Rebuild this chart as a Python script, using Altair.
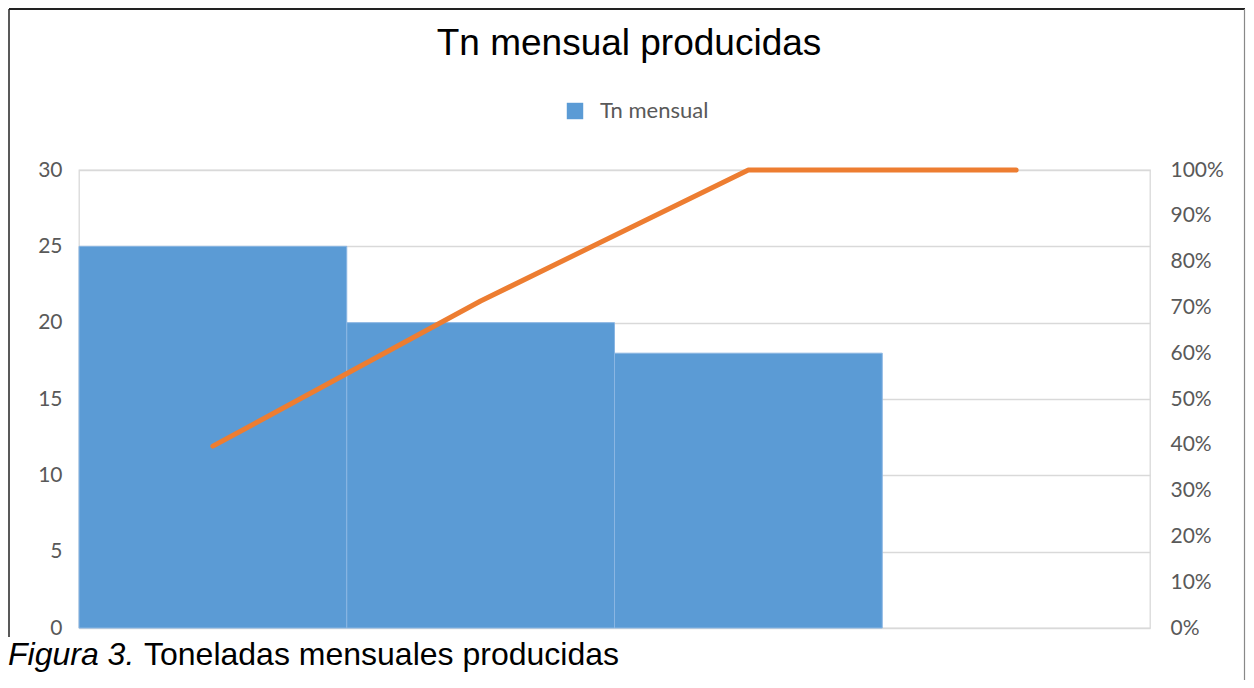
import altair as alt
import pandas as pd

categorias = ["1", "2", "3", "4"]
tn_mensual = [25, 20, 18, None]
pct_acumulado = [0.397, 0.714, 1.0, 1.0]
serie = ["Tn mensual", "Tn mensual", "Tn mensual", "Tn mensual"]

titulo = "Tn mensual producidas"
caption_italic = "Figura 3."
caption_rest = "Toneladas mensuales producidas"

left_ticks = [0, 5, 10, 15, 20, 25, 30]
right_ticks = [0, 0.1, 0.2, 0.3, 0.4, 0.5, 0.6, 0.7, 0.8, 0.9, 1.0]

df = pd.DataFrame({"cat": categorias, "tn": tn_mensual, "pct": pct_acumulado, "serie": serie})

W, H = 1071, 458
label_font = "Lato"
label_color = "#595959"

xenc = alt.X("cat:N", sort=categorias, axis=None,
             scale=alt.Scale(paddingInner=0, paddingOuter=0))

bars = alt.Chart(df).mark_bar(stroke="#8AB6E3", strokeWidth=1).encode(
    x=xenc,
    y=alt.Y("tn:Q", scale=alt.Scale(domain=[0, 30], nice=False),
            axis=alt.Axis(values=left_ticks, title=None, domain=False, ticks=False,
                          labelFont=label_font, labelFontSize=21, labelColor=label_color,
                          labelPadding=17, gridColor="#D9D9D9", gridWidth=1.3)),
    color=alt.Color("serie:N", scale=alt.Scale(range=["#5B9BD5"]),
                    legend=alt.Legend(title=None, orient="none", legendX=485, legendY=-70,
                                      symbolType="square", symbolSize=270, symbolStrokeWidth=0,
                                      labelFont=label_font, labelFontSize=22, labelColor=label_color,
                                      labelOffset=14, padding=0)),
)

line = alt.Chart(df).mark_line(color="#ED7D31", strokeWidth=5, strokeCap="round",
                               strokeJoin="round").encode(
    x=xenc,
    y=alt.Y("pct:Q", scale=alt.Scale(domain=[0, 1], nice=False),
            axis=alt.Axis(orient="right", values=right_ticks, format=".0%", title=None,
                          domain=False, ticks=False, grid=False,
                          labelFont=label_font, labelFontSize=21, labelColor=label_color,
                          labelPadding=20)),
)

title_mark = alt.Chart(pd.DataFrame({"t": [titulo]})).mark_text(
    font="Liberation Sans", fontSize=37, color="#000000", align="center", baseline="alphabetic"
).encode(text="t:N", x=alt.value(550), y=alt.value(-115))

cap1 = alt.Chart(pd.DataFrame({"t": [caption_italic]})).mark_text(
    font="Liberation Sans", fontSize=32, fontStyle="italic", color="#000000",
    align="left", baseline="alphabetic"
).encode(text="t:N", x=alt.value(-71), y=alt.value(495))

cap2 = alt.Chart(pd.DataFrame({"t": [caption_rest]})).mark_text(
    font="Liberation Sans", fontSize=32, color="#000000",
    align="left", baseline="alphabetic"
).encode(text="t:N", x=alt.value(65), y=alt.value(495))

border_top = alt.Chart(pd.DataFrame({"t": [0]})).mark_rule(color="#222222", strokeWidth=2).encode(
    x=alt.value(-70), x2=alt.value(1166), y=alt.value(-161))
border_left = alt.Chart(pd.DataFrame({"t": [0]})).mark_rule(color="#222222", strokeWidth=1.5).encode(
    x=alt.value(-70), y=alt.value(-161), y2=alt.value(467))
border_right = alt.Chart(pd.DataFrame({"t": [0]})).mark_rule(color="#888888", strokeWidth=1.2).encode(
    x=alt.value(1165.5), y=alt.value(-161), y2=alt.value(510))

main = alt.layer(bars, line).resolve_scale(y="independent")

chart = alt.layer(main, title_mark, cap1, cap2, border_top, border_left, border_right).properties(
    width=W, height=H,
    padding={"left": 71, "top": 162, "right": 96, "bottom": 52},
    autosize=alt.AutoSizeParams(type="none"),
    background="white",
).configure_view(stroke="#D9D9D9", strokeWidth=1.3)

chart.save("out.html", embed_options={"renderer": "svg", "actions": False})
